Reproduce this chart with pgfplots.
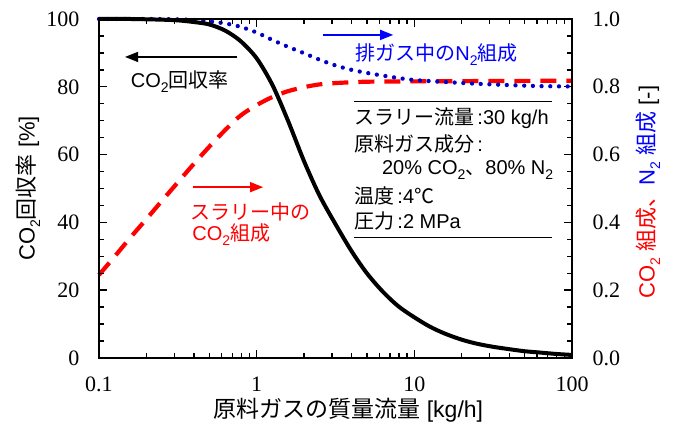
\documentclass[border=0pt]{standalone}
\usepackage{fontspec}
\setmainfont{Liberation Sans}
\newfontfamily\jpfont{Noto Sans CJK JP}
\newfontfamily\tmfont{Liberation Serif}
\usepackage{pgfplots}
\pgfplotsset{compat=1.18}
\usetikzlibrary{arrows.meta}
\newcommand{\jp}[1]{{\jpfont #1}}
\newcommand{\sub}[1]{\raisebox{-0.25em}{\fontsize{14}{14}\selectfont #1}}
\definecolor{myred}{RGB}{255,0,0}
\definecolor{myblue}{RGB}{0,0,255}
\definecolor{dotblue}{RGB}{0,0,200}
\begin{document}
\begin{tikzpicture}
\useasboundingbox (-99pt,-72pt) rectangle (575pt,358pt);
% right axis: compositions
\begin{axis}[
  scale only axis, width=473pt, height=339pt,
  xmode=log, xmin=0.1, xmax=100,
  clip=false,
  axis line style={line width=2.2pt},
  major tick length=8pt, minor tick length=5pt,
  every tick/.style={line width=1.4pt, black},
  tick align=inside,
  tick label style={font=\tmfont\fontsize{22}{22}\selectfont},
  ymin=0, ymax=1,
  hide x axis,
  axis y line*=right,
  ytick={0,0.2,0.4,0.6,0.8,1.0}, yticklabels={0.0,0.2,0.4,0.6,0.8,1.0},
  minor ytick={0.05,0.1,...,0.95},
  yticklabel style={xshift=17pt},
]
\addplot[myred, line width=4.2pt, dash pattern=on 16pt off 10pt, smooth] coordinates {
(0.1,0.245) (0.126,0.30) (0.158,0.355) (0.2,0.41) (0.25,0.463) (0.316,0.518)
(0.4,0.573) (0.5,0.623) (0.63,0.672) (0.79,0.715) (1.0,0.746) (1.26,0.77)
(1.58,0.787) (2.0,0.799) (2.5,0.807) (3.16,0.811) (5,0.815) (10,0.816) (30,0.817) (100,0.818)};
\addplot[dotblue, line width=4.3pt, line cap=round, dash pattern=on 0pt off 8.7pt, smooth] coordinates {
(0.1,1.0) (0.2,1.0) (0.316,0.999) (0.4,0.997) (0.5,0.993) (0.63,0.987) (0.79,0.977)
(1.0,0.96) (1.26,0.938) (1.58,0.918) (2.0,0.899) (2.5,0.88) (3.16,0.863) (4.0,0.85)
(5,0.841) (6.3,0.833) (7.9,0.826) (10,0.82) (15.8,0.814) (25,0.809) (40,0.805) (63,0.802) (100,0.801)};
% annotations
\draw[myblue, line width=1.4pt, -{Triangle[length=13pt,width=10pt]}]
  (rel axis cs:0.474,0.953) -- (rel axis cs:0.622,0.953);
\node[myblue, font=\fontsize{20}{24}\selectfont, inner sep=0] at (rel axis cs:0.7135,0.894)
  {\jp{排ガス中の}N\sub{2}\jp{組成}};
\draw[myred, line width=1.4pt, -{Triangle[length=13pt,width=10pt]}]
  (rel axis cs:0.199,0.504) -- (rel axis cs:0.347,0.504);
\node[myred, anchor=west, font=\fontsize{20}{24}\selectfont, inner sep=0] at (rel axis cs:0.193,0.431)
  {\jp{スラリー中の}};
\node[myred, anchor=west, font=\fontsize{20}{24}\selectfont, inner sep=0] at (rel axis cs:0.197,0.363)
  {CO\sub{2}\jp{組成}};
\node[rotate=90, font=\fontsize{22}{26}\selectfont, inner sep=0] at (rel axis cs:1.161,0.49)
  {{\color{myred}CO\sub{2} \jp{組成、}}{\color{myblue}N\sub{2} \jp{組成}} [-]};
\end{axis}
% left axis: recovery
\begin{axis}[
  scale only axis, width=473pt, height=339pt,
  xmode=log, xmin=0.1, xmax=100,
  clip=false,
  axis line style={line width=2.2pt},
  major tick length=8pt, minor tick length=5pt,
  every tick/.style={line width=1.4pt, black},
  tick align=inside,
  tick label style={font=\tmfont\fontsize{22}{22}\selectfont},
  ymin=0, ymax=100,
  xtick={0.1,1,10,100}, xticklabels={0.1,1,10,100},
  minor xtick={0.2,0.3,0.4,0.5,0.6,0.7,0.8,0.9,2,3,4,5,6,7,8,9,20,30,40,50,60,70,80,90},
  ytick={0,20,40,60,80,100}, yticklabels={0,20,40,60,80,100},
  minor ytick={5,10,...,95},
  ytick pos=left, xtick pos=both,
  xticklabel style={yshift=-15pt},
  yticklabel style={xshift=-16pt},
]
\addplot[black, line width=4pt, smooth] coordinates {
(0.1,100) (0.158,100) (0.25,99.8) (0.316,99.6) (0.4,99.1) (0.5,98.4) (0.63,96.6)
(0.79,93.5) (1.0,88.4) (1.26,80.5) (1.58,70) (2.0,58) (2.5,48) (3.16,39.5)
(4.0,31.5) (5.0,25) (6.3,19.6) (7.9,15.3) (10,12) (12.6,9.2) (15.8,7.1) (20,5.4)
(25,4.2) (31.6,3.3) (40,2.6) (50,2.0) (63,1.6) (79,1.2) (100,0.9)};
% annotations
\draw[black, line width=1.4pt, -{Triangle[length=13pt,width=10pt]}]
  (rel axis cs:0.292,0.888) -- (rel axis cs:0.055,0.888);
\node[font=\fontsize{20}{24}\selectfont, inner sep=0] at (rel axis cs:0.171,0.814)
  {CO\sub{2}\jp{回収率}};
% info box
\draw[black, line width=1pt] (rel axis cs:0.539,0.758) -- (rel axis cs:0.958,0.758);
\draw[black, line width=1pt] (rel axis cs:0.539,0.354) -- (rel axis cs:0.958,0.354);
\node[anchor=west, font=\fontsize{20}{24}\selectfont, inner sep=0] at (rel axis cs:0.539,0.708)
  {\jp{スラリー流量}\,:30 kg/h};
\node[anchor=west, font=\fontsize{20}{24}\selectfont, inner sep=0] at (rel axis cs:0.539,0.631)
  {\jp{原料ガス成分}\,:};
\node[anchor=west, font=\fontsize{20}{24}\selectfont, inner sep=0] at (rel axis cs:0.598,0.555)
  {20\% CO\sub{2}\jp{、}80\% N\sub{2}};
\node[anchor=west, font=\fontsize{20}{24}\selectfont, inner sep=0] at (rel axis cs:0.539,0.478)
  {\jp{温度}\,:4\jp{℃}};
\node[anchor=west, font=\fontsize{20}{24}\selectfont, inner sep=0] at (rel axis cs:0.539,0.404)
  {\jp{圧力}\,:2 MPa};
% axis labels
\node[rotate=90, font=\fontsize{22}{26}\selectfont, inner sep=0] at (rel axis cs:-0.150,0.5)
  {CO\sub{2}\jp{回収率} [\%]};
\node[font=\fontsize{23}{26}\selectfont, inner sep=0] at (rel axis cs:0.527,-0.153)
  {\jp{原料ガスの質量流量} [kg/h]};
\end{axis}
\end{tikzpicture}
\end{document}
